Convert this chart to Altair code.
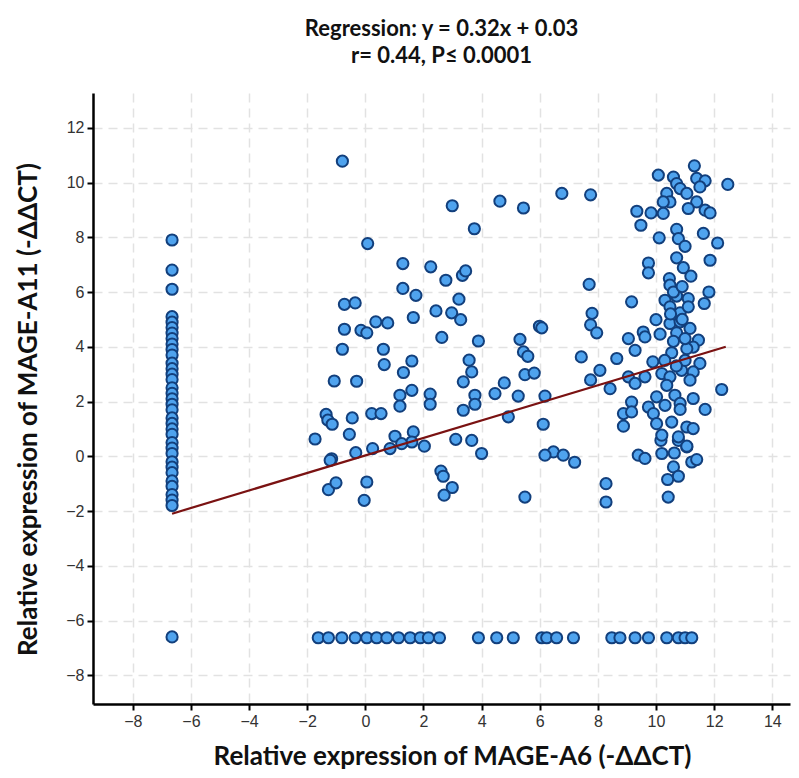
import altair as alt
import pandas as pd

# ---- data ----
column_x = -6.65
column_y = [7.9, 6.8, 6.1, 5.1, 4.9, 4.7, 4.5, 4.3, 4.1, 3.9, 3.7, 3.4, 3.2, 3.0, 2.8,
            2.5, 2.3, 2.1, 1.9, 1.7, 1.4, 1.2, 1.0, 0.8, 0.5, 0.3, 0.1, -0.2, -0.4,
            -0.6, -0.9, -1.1, -1.4, -1.6, -1.8, -6.6]

floor_y = -6.63
floor_x = [-1.62, -1.27, -0.81, -0.35, 0.05, 0.39, 0.74, 1.14, 1.54, 1.89, 2.17, 2.55,
           3.89, 4.52, 5.09, 6.07, 6.24, 6.58, 7.16, 8.48, 8.76, 9.28, 9.74, 10.37,
           10.77, 11.0, 11.23]

mid_x = [-0.79, 2.99, 4.63, 5.44, 6.76, 7.75, 3.75, 0.08, 1.29, 2.25, 2.77, 3.34, 3.45,
         1.29, 1.74, 7.7, -0.72, -0.35, 3.22, 2.43, 2.97, 3.28, 1.65, 0.36, 0.77, -0.72,
         -0.15, 0.05, 2.63, 3.89, 5.32, 5.99, 6.07, 7.8, 7.75, -0.79, 0.62, 5.44, 5.59,
         7.43, 3.57, 1.60, 0.65, 3.66, 1.31, 5.49, 5.81, 3.37, 4.78, -1.07, -0.30, 7.75,
         1.60, 1.19, 2.23, 3.77, 4.46, 5.26, 6.18, 1.19, 2.23, 3.77, 3.37, 0.22, 0.54,
         -1.35, -1.29, -1.14, -0.45, 4.92, -0.55, 6.12, -1.73, 1.02, 1.65, 1.60, 2.03,
         0.85, 1.25, 3.11, 3.66, 0.25, -0.33, -1.16, 4.00, 6.47, 6.81, 6.18, -1.21, 2.60,
         2.68, 2.99, 2.71, -1.27, -1.01, 0.05, -0.04, 5.49, 7.2, 8.28, 8.28]
mid_y = [10.78, 9.15, 9.32, 9.07, 9.60, 9.55, 8.31, 7.77, 7.04, 6.92, 6.43, 6.61, 6.77,
         6.13, 5.88, 6.28, 5.55, 5.60, 5.74, 5.31, 5.24, 4.99, 5.07, 4.91, 4.87, 4.64,
         4.60, 4.51, 4.34, 4.21, 4.27, 4.75, 4.69, 5.22, 4.8, 3.91, 3.91, 3.81, 3.65,
         3.63, 3.51, 3.48, 3.35, 3.08, 3.06, 2.98, 3.04, 2.72, 2.68, 2.75, 2.74, 2.79,
         2.41, 2.23, 2.27, 2.23, 2.29, 2.20, 2.20, 1.83, 1.90, 1.90, 1.68, 1.56, 1.56,
         1.53, 1.32, 1.17, 1.40, 1.44, 0.80, 1.17, 0.63, 0.73, 0.89, 0.52, 0.37,
         0.28, 0.46, 0.62, 0.58, 0.28, 0.13, -0.09, 0.10, 0.16, 0.04, 0.04, -0.15, -0.54,
         -0.73, -1.14, -1.42, -1.22, -0.97, -0.94, -1.61, -1.49, -0.22, -1.0, -1.67]

cluster_x = [9.39, 9.62, 10.20, 10.63, 11.06, 11.23, 11.40, 10.60, 10.77, 10.40, 10.42,
             10.17, 10.77, 11.32, 10.08, 10.60, 10.71, 10.83, 11.40, 11.69, 11.51, 12.47,
             11.06, 10.37, 10.48, 10.25, 11.40, 11.11, 11.69, 11.86, 9.34, 9.83, 10.25,
             9.48, 10.11, 10.71, 10.77, 11.0, 11.63, 12.12, 10.71, 11.86, 9.74, 9.74,
             10.94, 11.20, 10.46, 10.48, 9.16, 11.82, 11.66, 10.31, 10.71, 11.11, 10.48,
             10.83, 11.11, 7.96, 10.00, 10.48, 10.83, 11.17, 9.56, 10.14, 10.71, 9.05,
             9.28, 9.62, 11.46, 11.28, 11.06, 10.54, 8.65, 9.89, 11.51, 8.07, 8.42, 9.05,
             9.28, 9.62, 10.20, 10.48, 10.88, 11.28, 11.17, 10.37, 12.26, 10.02, 10.65,
             11.28, 10.83, 9.16, 8.88, 9.16, 9.74, 9.91, 10.02, 10.31, 10.83, 11.69, 8.88,
             10.54, 11.06, 11.28, 10.20, 10.77, 11.06, 10.6, 10.9, 10.6, 11.0, 10.9, 10.3,
             11.0, 10.7, 10.5]
cluster_y = [0.04, -0.08, 0.10, 0.12, 0.34, -0.21, -0.12, -0.39, -0.73, -0.85, -1.49,
             0.58, 0.58, 10.61, 10.27, 10.20, 9.96, 9.78, 10.15, 10.06, 9.84, 9.93,
             9.60, 9.60, 9.29, 9.29, 9.29, 9.05, 8.99, 8.89, 8.95, 8.89, 8.87,
             8.44, 7.98, 8.29, 7.95, 7.67, 8.14, 7.79, 7.25, 7.16, 7.06, 6.70,
             6.89, 6.58, 6.49, 6.25, 5.64, 6.00, 5.58, 5.70, 5.85, 5.76, 5.46,
             5.24, 5.46, 4.51, 4.99, 4.85, 4.91, 4.67, 4.54, 4.46, 4.51, 4.30,
             3.87, 4.36, 4.24, 3.99, 3.93, 3.78, 3.57, 3.45, 3.39, 3.14, 2.47, 2.90,
             2.66, 2.90, 3.02, 2.90, 3.14, 3.08, 2.78, 2.59, 2.44, 2.17, 2.23,
             2.11, 1.93, 1.98, 1.56, 1.62, 1.80, 1.56, 1.19, 1.86, 1.71, 1.71, 1.10,
             1.25, 1.07, 1.01, 0.77, 0.71, 0.37, 6.0, 5.0, 4.2, 4.3, 6.2, 3.5,
             3.5, 3.3, 5.2]

slope, intercept = 0.32, 0.03
line_x = [-6.65, 12.4]

x_ticks = [-8, -6, -4, -2, 0, 2, 4, 6, 8, 10, 12, 14]
y_ticks = [-8, -6, -4, -2, 0, 2, 4, 6, 8, 10, 12]

title_lines = ["Regression: y = 0.32x + 0.03", "r= 0.44, P\u2264 0.0001"]
x_title = "Relative expression of MAGE-A6 (-\u0394\u0394CT)"
y_title = "Relative expression of MAGE-A11 (-\u0394\u0394CT)"

# ---- tables ----
xs = [column_x] * len(column_y) + floor_x + mid_x + cluster_x
ys = column_y + [floor_y] * len(floor_x) + mid_y + cluster_y
df = pd.DataFrame({"x": xs, "y": ys})
line_df = pd.DataFrame({"x": line_x, "y": [slope * v + intercept for v in line_x]})

xscale = alt.Scale(domain=[-9.37, 14.61], nice=False, zero=False)
yscale = alt.Scale(domain=[-9.05, 13.27], nice=False, zero=False)

points = alt.Chart(df).mark_circle(
    size=125, color="#4fa3ee", stroke="#123f7c", strokeWidth=2, opacity=1
).encode(
    x=alt.X("x:Q", scale=xscale,
            axis=alt.Axis(values=x_ticks, title=x_title, titlePadding=14, titleX=359)),
    y=alt.Y("y:Q", scale=yscale,
            axis=alt.Axis(values=y_ticks, title=y_title, titlePadding=24, titleY=316)),
)

reg = alt.Chart(line_df).mark_line(color="#7a1212", strokeWidth=2.2).encode(
    x=alt.X("x:Q", scale=xscale),
    y=alt.Y("y:Q", scale=yscale),
)

chart = alt.layer(points, reg).properties(
    width=697,
    height=611,
    title=alt.Title(title_lines, font="Lato", fontSize=22, fontWeight="bold",
                    color="#111111", lineHeight=27, anchor="middle", offset=25),
    autosize=alt.AutoSizeParams(type="none"),
    padding={"left": 85, "top": 85, "right": 1, "bottom": 66},
).configure_view(stroke="transparent").configure_axis(
    domainColor="#000000", domainWidth=2.5, tickColor="#000000", tickSize=6,
    tickWidth=2, labelFont="Liberation Sans", labelFontSize=16, labelColor="#333333",
    labelPadding=3, gridColor="#e2e2e2", gridDash=[9, 6], gridWidth=1.5,
    titleFont="Lato", titleFontWeight="bold", titleFontSize=26, titleColor="#111111",
)

chart.save("out.html", embed_options={"renderer": "svg", "actions": False})
